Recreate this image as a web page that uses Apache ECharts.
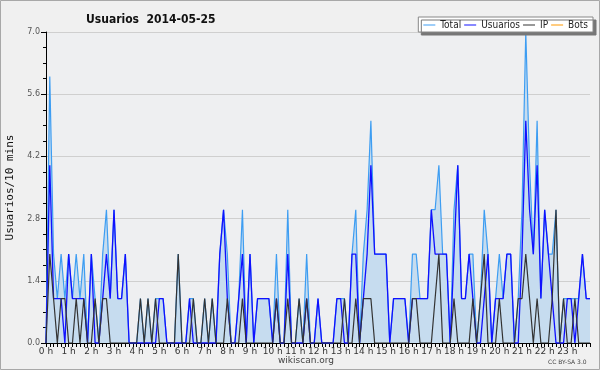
<!DOCTYPE html>
<html>
<head>
<meta charset="utf-8">
<script src="https://cdn.jsdelivr.net/npm/echarts@6/dist/echarts.min.js"></script>
<style>
  html, body { margin: 0; padding: 0; background: #f0f0f0; }
  #chart { width: 600px; height: 370px; }
</style>
</head>
<body>
<div id="chart"></div>
<script>
// hour tick labels
const hourLabels = ['0 h', '1 h', '2 h', '3 h', '4 h', '5 h', '6 h', '7 h', '8 h', '9 h', '10 h', '11 h',
    '12 h', '13 h', '14 h', '15 h', '16 h', '17 h', '18 h', '19 h', '20 h', '21 h', '22 h', '23 h'];
const slotsPerHour = ['00', '10', '20', '30', '40', '50'];

// values per 10 minutes (last one is 24:00)
const total = [
    0, 6, 2, 1, 2, 1,   2, 1, 2, 1, 2, 0,   2, 1, 0, 2, 3, 1,   3, 1, 1, 2, 0, 0,
    0, 1, 0, 1, 0, 1,   1, 1, 0, 0, 0, 2,   0, 0, 1, 1, 0, 0,   1, 0, 1, 0, 2, 3,
    2, 0, 0, 1, 3, 0,   2, 0, 1, 1, 1, 1,   0, 2, 0, 0, 3, 0,   0, 1, 0, 2, 0, 0,
    1, 0, 0, 0, 0, 1,   1, 1, 0, 2, 3, 0,   2, 3, 5, 2, 2, 2,   2, 0, 1, 1, 1, 1,
    0, 2, 2, 1, 1, 1,   3, 3, 4, 2, 2, 0,   3, 4, 1, 1, 2, 2,   0, 1, 3, 2, 0, 1,
    2, 1, 2, 2, 0, 1,   3, 7, 4, 2, 5, 1,   3, 2, 2, 3, 0, 1,   1, 1, 1, 1, 2, 1,
    1
];
const usuarios = [
    0, 4, 1, 1, 1, 0,   2, 1, 1, 1, 1, 0,   2, 0, 0, 1, 2, 1,   3, 1, 1, 2, 0, 0,
    0, 0, 0, 0, 0, 0,   1, 1, 0, 0, 0, 0,   0, 0, 1, 0, 0, 0,   0, 0, 0, 0, 2, 3,
    1, 0, 0, 1, 2, 0,   2, 0, 1, 1, 1, 1,   0, 1, 0, 0, 2, 0,   0, 0, 0, 1, 0, 0,
    1, 0, 0, 0, 0, 1,   1, 0, 0, 2, 2, 0,   1, 2, 4, 2, 2, 2,   2, 0, 1, 1, 1, 1,
    0, 1, 1, 1, 1, 1,   3, 2, 2, 2, 2, 0,   2, 4, 1, 1, 2, 1,   0, 0, 1, 2, 0, 1,
    1, 1, 2, 2, 0, 0,   2, 5, 3, 2, 4, 1,   3, 2, 1, 0, 0, 0,   1, 1, 0, 1, 2, 1,
    1
];
const ip = [
    0, 2, 1, 0, 1, 1,   0, 0, 1, 0, 1, 0,   0, 1, 0, 1, 1, 0,   0, 0, 0, 0, 0, 0,
    0, 1, 0, 1, 0, 1,   0, 0, 0, 0, 0, 2,   0, 0, 0, 1, 0, 0,   1, 0, 1, 0, 0, 0,
    1, 0, 0, 0, 1, 0,   0, 0, 0, 0, 0, 0,   0, 1, 0, 0, 1, 0,   0, 1, 0, 1, 0, 0,
    0, 0, 0, 0, 0, 0,   0, 1, 0, 0, 1, 0,   1, 1, 1, 0, 0, 0,   0, 0, 0, 0, 0, 0,
    0, 1, 1, 0, 0, 0,   0, 1, 2, 0, 0, 0,   1, 0, 0, 0, 0, 1,   0, 1, 2, 0, 0, 0,
    1, 0, 0, 0, 0, 1,   1, 2, 1, 0, 1, 0,   0, 0, 1, 3, 0, 1,   0, 0, 1, 0, 0, 0,
    0
];
const bots = [];

const yMin = 0, yMax = 7, yStep = 1.4;

// x categories: one per 10 minutes, plus the closing 24:00 edge
const slots = [];
hourLabels.forEach((h, hi) => slotsPerHour.forEach(m => slots.push(hi + ':' + m)));
slots.push('24:00');

const chart = echarts.init(document.getElementById('chart'));

const baseFont = 'DejaVu Sans';

chart.setOption({
    animation: false,
    backgroundColor: '#f0f0f0',
    title: {
        text: 'Usuarios  2014-05-25',
        left: 81,
        top: 9,
        textStyle: { fontFamily: 'DejaVu Sans Condensed', fontWeight: 'bold', fontSize: 12, color: '#111' }
    },
    legend: {
        right: 7,
        top: 17,
        itemWidth: 12,
        itemHeight: 1,
        itemGap: 3,
        padding: [3, 5, 2, 5],
        icon: 'rect',
        backgroundColor: '#fff',
        borderColor: '#888',
        borderWidth: 1,
        borderRadius: 0,
        shadowColor: '#777',
        shadowOffsetX: 3,
        shadowOffsetY: 3,
        shadowBlur: 0,
        textStyle: { fontFamily: 'DejaVu Sans Condensed', fontSize: 10, color: '#222' },
        data: ['Total', 'Usuarios', 'IP', 'Bots']
    },
    grid: {
        left: 46,
        right: 10,
        top: 32,
        bottom: 27,
        outerBoundsMode: 'none',
        containLabel: false,
        show: true,
        backgroundColor: '#eeeff1',
        borderWidth: 0
    },
    xAxis: {
        type: 'category',
        boundaryGap: false,
        data: slots,
        axisLine: { lineStyle: { color: '#000', width: 1 } },
        axisTick: { interval: 0, length: 4, lineStyle: { color: '#000' } },
        axisLabel: {
            interval: (idx) => idx % 6 === 0 && idx < 144,
            formatter: (val, idx) => hourLabels[idx / 6],
            fontFamily: baseFont,
            fontSize: 9,
            color: '#333',
            margin: 4
        },
        splitLine: { show: false }
    },
    yAxis: {
        type: 'value',
        min: yMin,
        max: yMax,
        interval: yStep,
        name: 'Usuarios/10 mins',
        nameLocation: 'middle',
        nameGap: 30,
        nameTextStyle: { fontFamily: 'DejaVu Sans Mono', fontSize: 11, color: '#111' },
        axisLine: { show: true, lineStyle: { color: '#000' } },
        axisTick: { show: true, length: 5, lineStyle: { color: '#000' } },
        minorTick: { show: true, splitNumber: 4, length: 3, lineStyle: { color: '#000' } },
        axisLabel: {
            formatter: (v) => v.toFixed(1),
            fontFamily: baseFont,
            fontSize: 8,
            color: '#555',
            margin: 6
        },
        splitLine: { lineStyle: { color: '#cfcfcf', width: 1 } }
    },
    series: [
        {
            name: 'Total',
            type: 'line',
            data: total,
            symbol: 'none',
            color: '#3d9df2',
            lineStyle: { color: '#3d9df2', width: 1.2 },
            areaStyle: { color: '#c6dcef', opacity: 1 },
            z: 1
        },
        {
            name: 'Usuarios',
            type: 'line',
            data: usuarios,
            symbol: 'none',
            color: '#1010ff',
            lineStyle: { color: '#1010ff', width: 1.3 },
            z: 2
        },
        {
            name: 'IP',
            type: 'line',
            data: ip,
            symbol: 'none',
            color: '#333',
            lineStyle: { color: '#333', width: 1.2 },
            z: 3
        },
        {
            name: 'Bots',
            type: 'line',
            data: bots,
            symbol: 'none',
            color: '#ff9900',
            lineStyle: { color: '#ff9900', width: 1.2 },
            z: 4
        }
    ],
    graphic: [
        {
            type: 'rect',
            shape: { x: 0.5, y: 0.5, width: 599, height: 369 },
            style: { fill: null, stroke: '#a8a8a8', lineWidth: 1 },
            silent: true
        },
        {
            type: 'text',
            left: 278,
            top: 356,
            style: { text: 'wikiscan.org', font: '9px "DejaVu Sans"', fill: '#444' }
        },
        {
            type: 'text',
            left: 548,
            top: 359,
            style: { text: 'CC BY-SA 3.0', font: '6px "DejaVu Sans"', fill: '#444' }
        }
    ]
});
</script>
</body>
</html>
